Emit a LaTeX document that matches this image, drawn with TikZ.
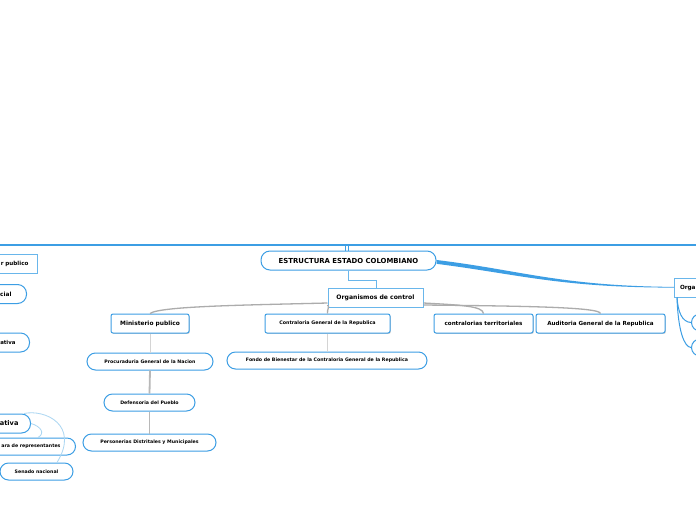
\documentclass[tikz,border=0pt]{standalone}
\usepackage{fontspec}
\setmainfont{DejaVu Sans}
\usetikzlibrary{shadows}
\definecolor{bblue}{RGB}{60,158,228}
\definecolor{lblue}{RGB}{105,182,235}
\definecolor{pblue}{RGB}{170,214,242}
\definecolor{cgray}{RGB}{172,172,172}
\definecolor{lgray}{RGB}{212,212,212}
\tikzset{
  basebox/.style={draw=bblue, line width=1pt, fill=white, inner sep=0pt, text=black,
    font=\bfseries\fontsize{5.6}{6}\selectfont},
  rectbox/.style={basebox, rounded corners=2pt, minimum height=19pt,
    drop shadow={shadow xshift=0.8pt, shadow yshift=-0.9pt, opacity=0.35}},
  sqbox/.style={basebox, draw=lblue, minimum height=19pt},
  pillbox/.style={basebox, rounded corners=8.5pt, minimum height=17pt,
    font=\bfseries\fontsize{4.7}{5}\selectfont},
  bigpill/.style={basebox, rounded corners=9pt, minimum height=19pt,
    font=\bfseries\fontsize{5.8}{6}\selectfont},
  grayconn/.style={draw=cgray, line width=1.3pt},
  thinconn/.style={draw=lgray, line width=0.8pt},
  thickconn/.style={draw=cgray!85, line width=1.8pt},
  paleconn/.style={draw=pblue, line width=0.8pt},
  blueconn/.style={draw=bblue, line width=1pt},
}
\begin{document}
\begin{tikzpicture}[x=1pt,y=-1pt]
\useasboundingbox (0,0) rectangle (696,520);
\clip (0,0) rectangle (696,520);
\fill[white] (0,0) rectangle (696,520);

% top line
\draw[bblue, line width=1.8pt] (0,245) -- (696,245);
\draw[bblue, line width=0.7pt] (345.3,245) -- (345.3,251);
\draw[bblue, line width=0.7pt] (348,245) -- (348,251);

% main nodes
\node[bigpill, minimum width=175pt, font=\bfseries\fontsize{6.9}{7}\selectfont] (root) at (348.5,260.5) {ESTRUCTURA ESTADO COLOMBIANO};
\node[sqbox, minimum width=95pt, font=\bfseries\fontsize{6.1}{7}\selectfont] (org) at (375.5,297.5) {Organismos de control};
\node[rectbox, minimum width=78pt, font=\bfseries\fontsize{5.9}{6}\selectfont] (min) at (150,323.5) {Ministerio publico};
\node[rectbox, minimum width=125pt, font=\bfseries\fontsize{4.8}{5}\selectfont] (contra) at (327.5,323.5) {Contraloria General de la Republica};
\node[rectbox, minimum width=99pt] (terr) at (483.5,323.5) {contralorias territoriales};
\node[rectbox, minimum width=129pt] (aud) at (600.5,323.5) {Auditoria General de la Republica};
\node[pillbox, minimum width=126pt] (proc) at (150,361.5) {Procuraduria General de la Nacion};
\node[pillbox, minimum width=200pt] (fondo) at (327,360.5) {Fondo de Bienestar de la Contraloria General de la Republica};
\node[pillbox, minimum width=91pt] (def) at (149.5,402.5) {Defensoria del Pueblo};
\node[pillbox, minimum width=133pt] (pers) at (149.5,442.5) {Personerias Distritales y Municipales};

% left truncated nodes
\node[sqbox, anchor=east, text width=60pt, align=right, inner xsep=9pt,
  drop shadow={shadow xshift=0.8pt, shadow yshift=-0.9pt, opacity=0.35}] (poder) at (38,264) {r publico};
\node[bigpill, anchor=east, text width=40pt, align=right, inner xsep=15pt] (jud) at (27,294) {cial};
\node[bigpill, anchor=east, text width=40pt, align=right, inner xsep=14pt, font=\bfseries\fontsize{5.4}{6}\selectfont] (ejec) at (30,342.5) {ativa};
\node[bigpill, anchor=east, text width=40pt, align=right, inner xsep=12pt, font=\bfseries\fontsize{6.6}{8}\selectfont] (legis) at (31,423.5) {ativa};
\node[pillbox, anchor=east, text width=60pt, align=right, inner xsep=15pt] (camara) at (76,446.5) {ara de representantes};
\node[pillbox, minimum width=73pt] (senado) at (36.5,471.5) {Senado nacional};

% right truncated nodes
\node[sqbox, anchor=west, text width=40pt, align=left, inner xsep=5.5pt, font=\bfseries\fontsize{5.7}{7}\selectfont] (orga) at (674,287.5) {Orga};
\node[pillbox, anchor=west, minimum width=40pt] (r1) at (691,322.5) {};
\node[pillbox, anchor=west, minimum width=40pt] (r2) at (691,347.5) {};

% connectors
\draw[draw=lblue, line width=0.7pt] (root.south -| 348.5,0) -- (348.5,280) -- (376,280) -- (org.north -| 376,0);
\fill[bblue] (root.east |- 0,260) .. controls (520,270) and (560,286) .. (orga.west |- 0,286.9)
  -- (orga.west |- 0,287.6) .. controls (560,287.5) and (520,274.5) .. (root.east |- 0,263.8) -- cycle;

\draw[grayconn] (org.west |- 0,303) .. controls (250,305) and (160,306) .. (min.north);
\draw[grayconn] (org.west |- 0,305) .. controls (330,307) and (327,309) .. (contra.north);
\draw[grayconn] (org.east |- 0,303) .. controls (460,305) and (483,306) .. (terr.north);
\draw[grayconn] (org.east |- 0,305) .. controls (520,306) and (600,307) .. (aud.north);

\draw[thinconn] (min.south) -- (proc.north);
\draw[thickconn] (proc.south) -- (def.north);
\draw[thickconn] (def.south) -- (pers.north);
\draw[thinconn] (contra.south) -- (fondo.north -| contra.south);

\draw[paleconn] (legis.north -| 24,0) .. controls (45,409) and (80,425) .. (senado.north -| 57,0);
\draw[paleconn] (legis.east) .. controls (40,426) and (46,433) .. (camara.north -| 38,0);

\draw[blueconn] (orga.south -| 677,0) .. controls (678,312) and (682,322) .. (r1.west);
\draw[blueconn] (orga.south -| 677,0) .. controls (678,330) and (684,347) .. (r2.west);
\end{tikzpicture}
\end{document}
